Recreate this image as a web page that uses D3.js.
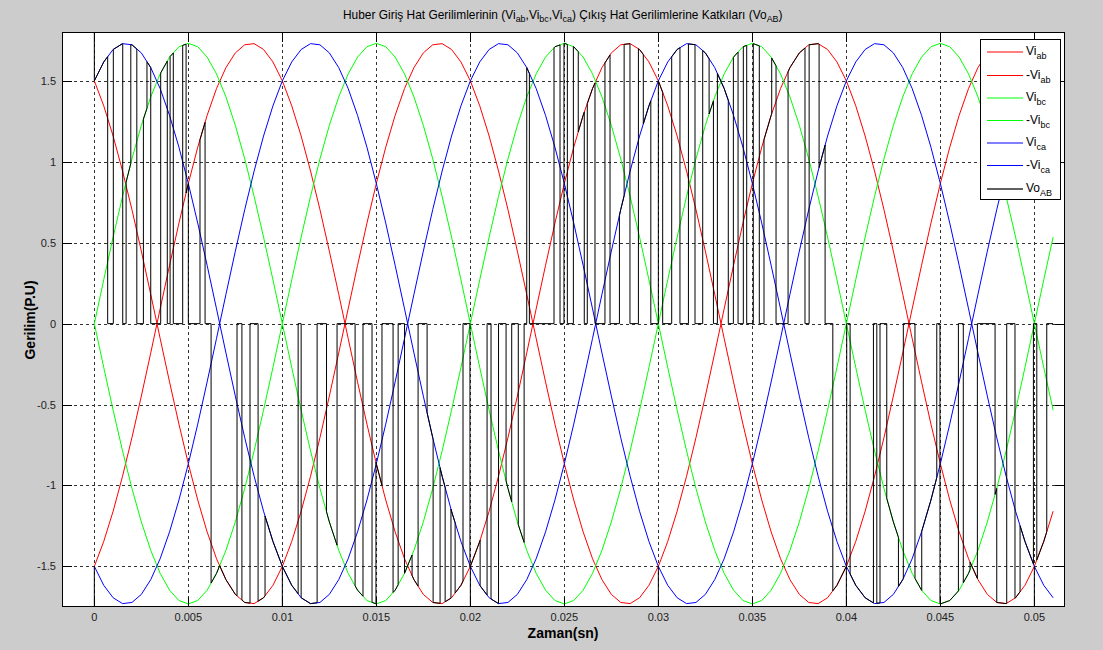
<!DOCTYPE html>
<html><head><meta charset="utf-8">
<script src="https://cdn.jsdelivr.net/npm/d3@7"></script>
<style>body{margin:0;background:#cccccc;} svg{display:block}</style>
</head><body>
<svg id="chart" width="1103" height="650"></svg>
<script>
// ---------- data ----------
const sampleStep = 0.0005; // s between samples of the input line voltages
const viAB = [
 1.500, 1.346, 1.159, 0.943, 0.705, 0.448, 0.181,-0.091,-0.360,-0.621,
-0.866,-1.090,-1.287,-1.453,-1.582,-1.673,-1.723,-1.730,-1.694,-1.617,
-1.500,-1.346,-1.159,-0.943,-0.705,-0.448,-0.181, 0.091, 0.360, 0.621,
 0.866, 1.090, 1.287, 1.453, 1.582, 1.673, 1.723, 1.730, 1.694, 1.617,
 1.500, 1.346, 1.159, 0.943, 0.705, 0.448, 0.181,-0.091,-0.360,-0.621,
-0.866,-1.090,-1.287,-1.453,-1.582,-1.673,-1.723,-1.730,-1.694,-1.617,
-1.500,-1.346,-1.159,-0.943,-0.705,-0.448,-0.181, 0.091, 0.360, 0.621,
 0.866, 1.090, 1.287, 1.453, 1.582, 1.673, 1.723, 1.730, 1.694, 1.617,
 1.500, 1.346, 1.159, 0.943, 0.705, 0.448, 0.181,-0.091,-0.360,-0.621,
-0.866,-1.090,-1.287,-1.453,-1.582,-1.673,-1.723,-1.730,-1.694,-1.617,
-1.500,-1.346,-1.159];
const viBC = [
 0.000, 0.271, 0.535, 0.786, 1.018, 1.225, 1.401, 1.543, 1.647, 1.711,
 1.732, 1.711, 1.647, 1.543, 1.401, 1.225, 1.018, 0.786, 0.535, 0.271,
 0.000,-0.271,-0.535,-0.786,-1.018,-1.225,-1.401,-1.543,-1.647,-1.711,
-1.732,-1.711,-1.647,-1.543,-1.401,-1.225,-1.018,-0.786,-0.535,-0.271,
 0.000, 0.271, 0.535, 0.786, 1.018, 1.225, 1.401, 1.543, 1.647, 1.711,
 1.732, 1.711, 1.647, 1.543, 1.401, 1.225, 1.018, 0.786, 0.535, 0.271,
 0.000,-0.271,-0.535,-0.786,-1.018,-1.225,-1.401,-1.543,-1.647,-1.711,
-1.732,-1.711,-1.647,-1.543,-1.401,-1.225,-1.018,-0.786,-0.535,-0.271,
 0.000, 0.271, 0.535, 0.786, 1.018, 1.225, 1.401, 1.543, 1.647, 1.711,
 1.732, 1.711, 1.647, 1.543, 1.401, 1.225, 1.018, 0.786, 0.535, 0.271,
 0.000,-0.271,-0.535];
const viCA = [
-1.500,-1.617,-1.694,-1.730,-1.723,-1.673,-1.582,-1.453,-1.287,-1.090,
-0.866,-0.621,-0.360,-0.091, 0.181, 0.448, 0.705, 0.943, 1.159, 1.346,
 1.500, 1.617, 1.694, 1.730, 1.723, 1.673, 1.582, 1.453, 1.287, 1.090,
 0.866, 0.621, 0.360, 0.091,-0.181,-0.448,-0.705,-0.943,-1.159,-1.346,
-1.500,-1.617,-1.694,-1.730,-1.723,-1.673,-1.582,-1.453,-1.287,-1.090,
-0.866,-0.621,-0.360,-0.091, 0.181, 0.448, 0.705, 0.943, 1.159, 1.346,
 1.500, 1.617, 1.694, 1.730, 1.723, 1.673, 1.582, 1.453, 1.287, 1.090,
 0.866, 0.621, 0.360, 0.091,-0.181,-0.448,-0.705,-0.943,-1.159,-1.346,
-1.500,-1.617,-1.694,-1.730,-1.723,-1.673,-1.582,-1.453,-1.287,-1.090,
-0.866,-0.621,-0.360,-0.091, 0.181, 0.448, 0.705, 0.943, 1.159, 1.346,
 1.500, 1.617, 1.694];

// Vo_AB switching events: time (ms) and the input line voltage applied from then on ("0" = zero)
const voSwitchMs = [
 0.00, 0.71, 1.01, 1.51, 1.69, 1.94, 2.26, 2.61, 2.80, 3.00, 3.53, 3.88, 4.03, 4.20, 4.70, 4.88, 5.00, 5.62, 5.89,
 6.21, 6.67, 7.59, 7.85, 8.28, 8.71, 9.08,10.84,11.00,11.85,12.35,12.91,13.87,14.29,14.77,14.98,15.30,15.89,
16.16,16.50,16.90,17.22,17.70,18.02,18.39,18.66,18.97,19.19,19.61,19.98,20.52,20.89,21.10,21.50,21.90,22.20,
22.55,22.86,
23.00,23.14,24.45,24.77,24.98,25.16,25.48,25.74,26.06,26.22,26.63,27.16,27.43,27.93,28.18,28.49,28.94,29.20,
29.60,30.00,30.23,30.71,31.15,31.60,31.95,32.36,32.70,32.93,33.14,33.72,33.99,34.24,34.52,34.70,35.05,35.37,
35.62,36.03,36.26,36.90,37.80,38.02,38.55,38.87,
39.28,40.02,40.20,41.44,41.62,41.79,42.15,42.77,43.03,43.65,44.01,44.81,44.98,45.96,46.22,46.58,46.97,47.91,
48.00,48.53,48.97,49.24,49.95,50.13,50.66];
const voSwitchSrc = [
 "-ca","0","-ca","0","bc","-ca","0","bc","-ca","0","bc","0","bc","0","bc","-ab","0","-ab","0",
 "-bc","ab","0","ab","0","ab","-ca","0","-ca","0","bc","0","bc","0","bc","-ab","0","bc",
 "0","bc","-ab","0","ca","-ab","ca","-ab","ca","-ab","0","-ab","ca","0","ca","0","-bc","0",
 "-bc","0",
 "-ca","0","bc","0","bc","0","bc","-ab","0","-ab","0","-ab","0","ca","-ab","0","-ab","ca",
 "0","-ab","0","ca","0","ca","0","ca","-bc","0","ca","0","-bc","0","-bc","0","-bc","0",
 "ab","-bc","0","ab","0","ab","-ca","0",
 "-ab","0","ca","0","ca","0","-bc","ca","0","-bc","ca","0","-bc","0","-bc","ab","0","-bc",
 "ab","0","ab","-ca","0","ab","0"];
const voSpikeTimes = [0, 0.01, 0.02, 0.03, 0.04, 0.05];

const xTicks = [0,0.005,0.01,0.015,0.02,0.025,0.03,0.035,0.04,0.045,0.05];
const xTickLabels = ["0","0.005","0.01","0.015","0.02","0.025","0.03","0.035","0.04","0.045","0.05"];
const yTicks = [-1.5,-1,-0.5,0,0.5,1,1.5];
const yTickLabels = ["-1.5","-1","-0.5","0","0.5","1","1.5"];

const seriesKeys = ["ab","-ab","bc","-bc","ca","-ca"];
const seriesColors = ["#ff0000","#ff0000","#00ff00","#00ff00","#0000ff","#0000ff"];
const legendMain = ["Vi","-Vi","Vi","-Vi","Vi","-Vi","Vo"];
const legendSub = ["ab","ab","bc","bc","ca","ca","AB"];
const legendLineColors = ["#ff8080","#ff0000","#80ff80","#00ff00","#8080ff","#0000ff","#606060"];

// ---------- drawing ----------
const svg = d3.select("#chart");
const W = 1103, H = 650;
svg.append("rect").attr("width",W).attr("height",H).attr("fill","#cccccc");
const L = 62, R = 1065, T = 32, B = 607;
const x = d3.scaleLinear().domain([-0.00172, 0.05163]).range([L, R]);
const y = d3.scaleLinear().domain([-1.751, 1.802]).range([B, T]);
const crisp = v => Math.round(v) + 0.5;

svg.append("rect").attr("x",L).attr("y",T).attr("width",R-L).attr("height",B-T).attr("fill","#ffffff");

const defs = svg.append("defs");
defs.append("clipPath").attr("id","plotclip").append("rect")
  .attr("x",L).attr("y",T).attr("width",R-L).attr("height",B-T);

// grid
const grid = svg.append("g").attr("stroke","#333").attr("stroke-width",1).attr("stroke-dasharray","3,3");
xTicks.forEach(v => grid.append("line").attr("x1",crisp(x(v))).attr("x2",crisp(x(v))).attr("y1",T).attr("y2",B));
yTicks.forEach(v => grid.append("line").attr("y1",crisp(y(v))).attr("y2",crisp(y(v))).attr("x1",L).attr("x2",R));

// series
const srcData = {};
srcData["ab"] = viAB; srcData["-ab"] = viAB.map(v=>-v);
srcData["bc"] = viBC; srcData["-bc"] = viBC.map(v=>-v);
srcData["ca"] = viCA; srcData["-ca"] = viCA.map(v=>-v);

const plot = svg.append("g").attr("clip-path","url(#plotclip)");
const line = d3.line().x(d=>x(d[0])).y(d=>y(d[1]));
seriesKeys.forEach((k,i) => {
  const pts = srcData[k].map((v,j)=>[j*sampleStep, v]);
  plot.append("path").attr("d", line(pts)).attr("fill","none")
    .attr("stroke", seriesColors[i]).attr("stroke-width",1);
});

// Vo_AB
function level(src, t){
  if (src === "0") return 0;
  const a = srcData[src];
  const f = t / sampleStep;
  const i = Math.max(0, Math.min(Math.floor(f), a.length-2));
  const r = f - i;
  return a[i]*(1-r) + a[i+1]*r;
}
const tEnd = (viAB.length-1)*sampleStep;
const voPts = [];
for (let i=0;i<voSwitchMs.length;i++){
  const t0 = voSwitchMs[i]/1000;
  const t1 = i+1 < voSwitchMs.length ? voSwitchMs[i+1]/1000 : tEnd;
  const s = voSwitchSrc[i];
  voPts.push([t0, level(s,t0)]);
  if (s !== "0") {
    for (let k=Math.floor(t0/sampleStep)+1; k*sampleStep < t1; k++) voPts.push([k*sampleStep, level(s,k*sampleStep)]);
  }
  voPts.push([t1, level(s,t1)]);
}
plot.append("path").attr("d", line(voPts)).attr("fill","none").attr("stroke","#000").attr("stroke-width",1);
plot.append("path").attr("d", line([[0,1.5],[0,2.5]])).attr("stroke","#000").attr("stroke-width",1).attr("fill","none");
voSpikeTimes.forEach(t => {
  plot.append("path").attr("d", line([[t,-1.5],[t,-2.5]])).attr("stroke","#000").attr("stroke-width",1).attr("fill","none");
});

// box + ticks
const ax = svg.append("g").attr("stroke","#000").attr("stroke-width",1).attr("fill","none");
ax.append("rect").attr("x",L+0.5).attr("y",T+0.5).attr("width",R-L-1).attr("height",B-T-1);
const tl = 10;
xTicks.forEach(v => {
  const xx = crisp(x(v));
  ax.append("line").attr("x1",xx).attr("x2",xx).attr("y1",B).attr("y2",B-tl);
  ax.append("line").attr("x1",xx).attr("x2",xx).attr("y1",T).attr("y2",T+tl);
});
yTicks.forEach(v => {
  const yy = crisp(y(v));
  ax.append("line").attr("y1",yy).attr("y2",yy).attr("x1",L).attr("x2",L+tl);
  ax.append("line").attr("y1",yy).attr("y2",yy).attr("x1",R).attr("x2",R-tl);
});

// tick labels
const font = "'Liberation Sans', Arial, sans-serif";
xTicks.forEach((v,i) => {
  svg.append("text").attr("x", x(v)).attr("y", 621).attr("text-anchor","middle")
    .attr("font-family",font).attr("font-size",11).attr("fill","#222").text(xTickLabels[i]);
});
yTicks.forEach((v,i) => {
  svg.append("text").attr("x", 56).attr("y", y(v)+4).attr("text-anchor","end")
    .attr("font-family",font).attr("font-size",11).attr("fill","#222").text(yTickLabels[i]);
});

// axis labels
svg.append("text").attr("x",563).attr("y",638).attr("text-anchor","middle")
  .attr("font-family",font).attr("font-size",14).attr("font-weight","bold").text("Zaman(sn)");
svg.append("text").attr("transform","translate(35,320) rotate(-90)").attr("text-anchor","middle")
  .attr("font-family",font).attr("font-size",14).attr("font-weight","bold").text("Gerilim(P.U)");

// title
const title = svg.append("text").attr("font-family",font).attr("font-size",12).attr("fill","#000");
const parts = [["Huber Giriş Hat Gerilimlerinin (Vi",0],["ab",1],[",Vi",0],["bc",1],[",Vi",0],["ca",1],[") Çıkış Hat Gerilimlerine Katkıları (Vo",0],["AB",1],[")",0]];
parts.forEach((p,i) => {
  const prev = i>0 ? parts[i-1][1] : 0;
  const ts = title.append("tspan").text(p[0]);
  if (p[1]) ts.attr("font-size",9);
  ts.attr("dy", p[1] && !prev ? 3 : (!p[1] && prev ? -3 : 0));
});
const tw = title.node().getComputedTextLength();
title.attr("transform", `translate(${563 - 440/2},19) scale(${440/tw},1)`);

// legend
const lg = svg.append("g");
lg.append("rect").attr("x",980.5).attr("y",39.5).attr("width",80).attr("height",160)
  .attr("fill","#fff").attr("stroke","#000").attr("stroke-width",1);
const rowY = [52, 75.5, 98, 120.5, 143, 165.5, 189];
rowY.forEach((ry,i) => {
  lg.append("line").attr("x1",987).attr("x2",1023).attr("y1",ry).attr("y2",ry)
    .attr("stroke",legendLineColors[i]).attr("stroke-width", i%2===0 ? 2 : 1);
  const t = lg.append("text").attr("x",1026).attr("y",Math.round(ry)+3).attr("font-family",font)
    .attr("font-size",12).attr("fill","#000");
  t.append("tspan").text(legendMain[i]);
  t.append("tspan").attr("font-size",9).attr("dy",4).text(legendSub[i]);
});
</script>
</body></html>
